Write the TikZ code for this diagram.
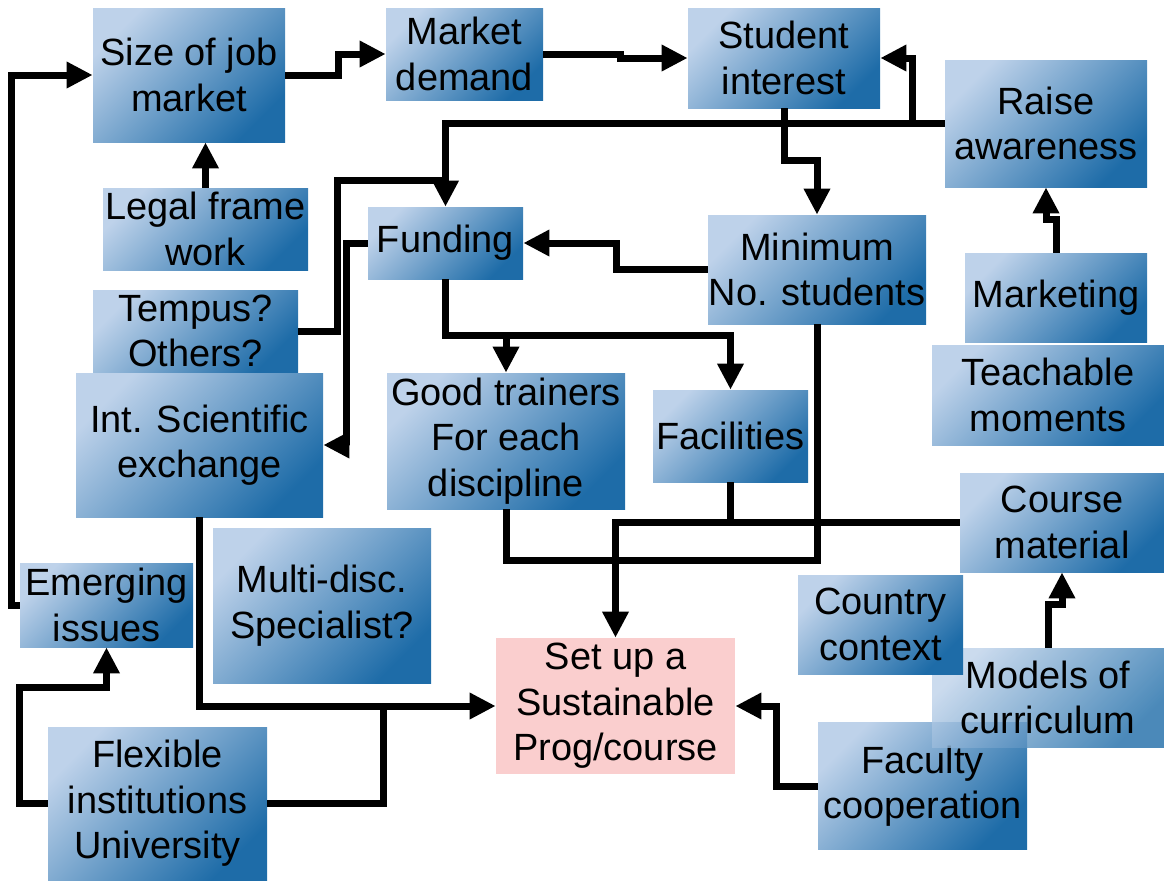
\documentclass[tikz,border=0pt]{standalone}
\usepackage{fontspec}
\setmainfont{Liberation Sans}
\usepackage{tikz}
\usetikzlibrary{arrows.meta}

\definecolor{boxlight}{RGB}{190,210,234}
\definecolor{boxdark}{RGB}{30,108,168}
\definecolor{goalpink}{RGB}{250,206,206}

\begin{document}
\begin{tikzpicture}[x=0.02cm, y=-0.02cm,
        box/.style={top color=boxlight, bottom color=boxdark, shading angle=45,
            align=center, inner sep=0pt, font=\fontsize{21.6}{25.9}\selectfont},
        goal/.style={fill=goalpink, align=center, inner sep=0pt,
            font=\fontsize{21.6}{25.9}\selectfont},
        wh/.style 2 args={minimum width=#1*0.02cm, minimum height=#2*0.02cm},
        link/.style={line width=0.14cm},
        arr/.style={link, -{Triangle[length=0.52cm, width=0.5cm]}}]
                \useasboundingbox (0,0) rectangle (1164,880);
                % boxes
                \node[box, wh={192}{134}] (size) at (189,75) {Size of job\\market};
                \node[box, wh={157}{92}] (demand) at (464.5,54) {Market\\demand};
                \node[box, wh={192}{100}] (interest) at (784,58) {Student\\interest};
                \node[box, wh={202}{127}] (raise) at (1046,123.5) {Raise\\awareness};
                \node[box, wh={205}{82}] (legal) at (205.5,229) {Legal frame\\work};
                \node[box, wh={155}{72}] (funding) at (445.5,243) {Funding};
                \node[box, wh={218}{109}] (minimum) at (817,269.5) {Minimum\\No. students};
                \node[box, wh={182}{89}] (marketing) at (1056,297.5) {Marketing};
                \node[box, wh={205}{82}] (tempus) at (195.5,331) {Tempus?\\Others?};
                \node[box, wh={232}{100}] (teach) at (1048,395) {Teachable\\moments};
                \node[box, wh={247}{144}] (intsci) at (199.5,445) {Int. Scientific\\exchange};
                \node[box, wh={238}{136}] (trainers) at (506,441) {Good trainers\\For each\\discipline};
                \node[box, wh={155}{92}] (facilities) at (730.5,436) {Facilities};
                \node[box, wh={204}{99}] (course) at (1062,522.5) {Course\\material};
                \node[box, wh={173}{84}] (emerging) at (106.5,605) {Emerging\\issues};
                \node[box, wh={218}{155}] (multi) at (322,605.5) {Multi-disc.\\Specialist?};
                \node[goal, wh={239}{136}] (setup) at (615.5,706) {Set up a\\Sustainable\\Prog/course};
                \node[box, wh={209}{127}] (faculty) at (922.5,786) {Faculty\\cooperation};
                \node[box, wh={232}{99}, fill opacity=0.8, text opacity=1] (models) at (1048,697.5) {Models of\\curriculum};
                \node[box, wh={165}{99}] (country) at (880.5,624.5) {Country\\context};
                \node[box, wh={219}{153}] (flexible) at (157.5,803.5) {Flexible\\institutions\\University};
                % junctions
                \coordinate (jtempus) at (funding.north |- 0,180);
                \coordinate (jtrain) at (trainers.north |- 0,335);
                \coordinate (jflex) at (383,706);
                % connectors
                \draw[arr] (emerging.west) -- ++(-8,0) |- (size.west);
                \draw[arr] (size.east) -- ++(53,0) |- (demand.west);
                \draw[arr] (demand.east) -- ++(77,0) |- (interest.west);
                \draw[arr] (legal.north) -- (legal.north |- size.south);
                \draw[arr] (interest.south) -- ++(0,52) -| (minimum.north);
                \draw[arr] (raise.west) -- ++(-32,0) |- (interest.east);
                \draw[arr] (raise.west) -| (funding.north);
                \draw[link] (tempus.east) -- ++(39,0) |- (jtempus);
                \draw[arr] (funding.west) -- ++(-21,0) |- (intsci.east);
                \draw[arr] (minimum.west) -- ++(-91,0) |- (funding.east);
                \draw[arr] (funding.south) -- ++(0,56) -| (facilities.north);
                \draw[arr] (jtrain) -- (trainers.north);
                \draw[link] (trainers.south) -- ++(0,51) -| (minimum.south);
                \draw[link] (facilities.south) -- (facilities.south |- course.west);
                \draw[arr] (course.west) -| (setup.north);
                \draw[arr] (intsci.south) |- (setup.west);
                \draw[link] (flexible.east) -| (jflex);
                \draw[arr] (flexible.west) -- ++(-28,0) -- ++(0,-116) -| (emerging.south);
                \draw[arr] (faculty.west) -- ++(-41,0) |- (setup.east);
                \draw[arr] (models.north) -- ++(0,-43) -| (course.south);
                \draw[arr] (marketing.north) -- ++(0,-33) -| (raise.south);
            \end{tikzpicture}
\end{document}
